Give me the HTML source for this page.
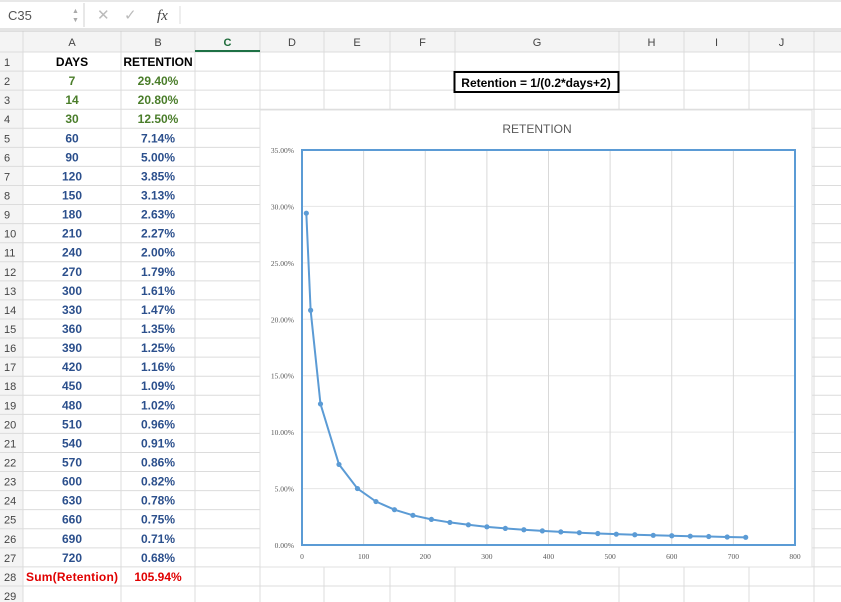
<!DOCTYPE html>
<html><head><meta charset="utf-8"><style>
body{margin:0;background:#fff;width:841px;height:602px;overflow:hidden}
svg{display:block}
</style></head><body>
<svg id="s" width="841" height="602" xmlns="http://www.w3.org/2000/svg" font-family="Liberation Sans, sans-serif"></svg>
<script>
const days=[7,14,30,60,90,120,150,180,210,240,270,300,330,360,390,420,450,480,510,540,570,600,630,660,690,720];
const retention=[29.40,20.80,12.50,7.14,5.00,3.85,3.13,2.63,2.27,2.00,1.79,1.61,1.47,1.35,1.25,1.16,1.09,1.02,0.96,0.91,0.86,0.82,0.78,0.75,0.71,0.68];
const sumLabel='105.94%';
const yTicks=[0,5,10,15,20,25,30,35];
const xTicks=[0,100,200,300,400,500,600,700,800];
const colNames=['A','B','C','D','E','F','G','H','I','J'];
const colEdges=[23,121,195,260,324,390,455,619,684,749,814];
const NS='http://www.w3.org/2000/svg';
const s=document.getElementById('s');
function el(t,a,txt,p){const e=document.createElementNS(NS,t);for(const k in a)e.setAttribute(k,a[k]);if(txt!=null)e.textContent=txt;(p||s).appendChild(e);return e;}
const RT=52,RH=19.07;
let e;
e=el('rect',{x:0,y:0,width:841,height:30,fill:'#fff'});

el('line',{x1:0,y1:1,x2:841,y2:1,stroke:'#d0d0d0'});
el('line',{x1:0,y1:29,x2:841,y2:29,stroke:'#c8c8c8'});
el('line',{x1:84,y1:3,x2:84,y2:27,stroke:'#d0d0d0'});
e=el('text',{x:8,y:20,'font-size':13,fill:'#555'},'C35');

el('text',{x:72,y:13,'font-size':7,fill:'#aaa'},'▲');el('text',{x:72,y:22,'font-size':7,fill:'#aaa'},'▼');
el('text',{x:97,y:20,'font-size':15,fill:'#bbb'},'✕');
el('text',{x:124,y:20,'font-size':15,fill:'#bbb'},'✓');
e=el('text',{x:157,y:20,'font-size':15,fill:'#444','font-style':'italic','font-family':'Liberation Serif, serif'},'fx');

el('line',{x1:180,y1:6,x2:180,y2:24,stroke:'#ddd'});
e=el('rect',{x:0,y:31,width:841,height:21,fill:'#f4f4f4'});

el('rect',{x:0,y:52,width:23,height:560,fill:'#f4f4f4'});
for(let i=0;i<=29;i++){const y=RT+i*RH;el('line',{x1:0,y1:y,x2:841,y2:y,stroke:'#dcdcdc'});}
colEdges.forEach(x=>el('line',{x1:x,y1:31,x2:x,y2:602,stroke:'#dcdcdc'}));
el('line',{x1:0,y1:31,x2:841,y2:31,stroke:'#c8c8c8'});
colNames.forEach((c,i)=>{const cx=(colEdges[i]+colEdges[i+1])/2;
 e=el('text',{x:cx,y:46,'font-size':11,'text-anchor':'middle',fill:c==='C'?'#1e6b3a':'#444','font-weight':c==='C'?'bold':'normal'},c);
 });
el('rect',{x:195,y:50,width:65,height:2,fill:'#1e7145'});
for(let r=1;r<=29;r++){e=el('text',{x:4,y:RT+(r-1)*RH+14,'font-size':11,fill:'#444'},String(r));
 }
function cell(col,r,t,color,nm){const cx=(colEdges[col]+colEdges[col+1])/2;
 const e=el('text',{x:cx,y:RT+(r-1)*RH+14,'font-size':12,'font-weight':'bold','text-anchor':'middle',fill:color},t);
 }
cell(0,1,'DAYS','#000','days-header');cell(1,1,'RETENTION','#000','retention-header');
days.forEach((d,i)=>{const c=i<3?'#4a7d2a':'#2b4f8c';cell(0,i+2,String(d),c,'days-cell');cell(1,i+2,retention[i].toFixed(2)+'%',c,'retention-cell');});
e=el('text',{x:72,y:RT+27*RH+14,'font-size':12,'font-weight':'bold','text-anchor':'middle',fill:'#e00000',textLength:92},'Sum(Retention)');

cell(1,28,sumLabel,'#e00000','sum-value');
e=el('rect',{x:454.5,y:72,width:164,height:20,fill:'#fff',stroke:'#000','stroke-width':2});

el('text',{x:536,y:87,'font-size':12,'font-weight':'bold','text-anchor':'middle',fill:'#000'},'Retention = 1/(0.2*days+2)');
const g=el('g',{});
el('rect',{x:260,y:110,width:552,height:457,fill:'#fff',stroke:'#e0e0e0'},null,g);
e=el('text',{x:537,y:133,'font-size':12,'text-anchor':'middle',fill:'#595959'},'RETENTION',g);

const X0=302,X1=795,Y0=545,Y1=150;
const xs=v=>X0+v/800*(X1-X0), ys=v=>Y0-v/35*(Y0-Y1);
yTicks.forEach(t=>{el('line',{x1:X0,y1:ys(t),x2:X1,y2:ys(t),stroke:'#e6e6e6'},null,g);
 e=el('text',{x:X0-8,y:ys(t)+3,'font-size':7.5,'text-anchor':'end',fill:'#595959','font-family':'Liberation Serif, serif'},t.toFixed(2)+'%',g);
 });
xTicks.forEach(t=>{el('line',{x1:xs(t),y1:Y1,x2:xs(t),y2:Y0,stroke:'#d9d9d9'},null,g);
 e=el('text',{x:xs(t),y:Y0+14,'font-size':7.5,'text-anchor':'middle',fill:'#595959','font-family':'Liberation Serif, serif'},String(t),g);
 });
e=el('rect',{x:X0,y:Y1,width:X1-X0,height:Y0-Y1,fill:'none',stroke:'#5b9bd5','stroke-width':2},null,g);

e=el('polyline',{points:days.map((d,i)=>xs(d)+','+ys(retention[i])).join(' '),fill:'none',stroke:'#5b9bd5','stroke-width':2},null,g);

days.forEach((d,i)=>{const c=el('circle',{cx:xs(d),cy:ys(retention[i]),r:2.6,fill:'#5b9bd5'},null,g);
 
 });
</script>
</body></html>
